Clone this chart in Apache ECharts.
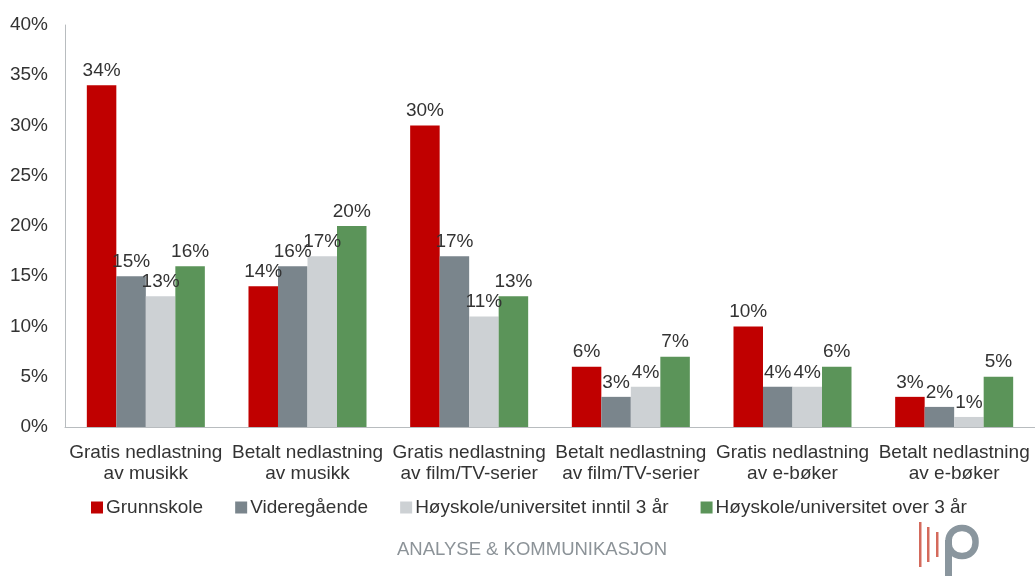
<!DOCTYPE html>
<html>
<head>
<meta charset="utf-8">
<script src="https://cdn.jsdelivr.net/npm/echarts@6/dist/echarts.min.js"></script>
<style>
  html, body { margin: 0; padding: 0; background: #fff; }
  #chart { width: 1035px; height: 576px; }
</style>
</head>
<body>
<div id="chart"></div>
<script>
const categories = [
    "Gratis nedlastning\nav musikk",
    "Betalt nedlastning\nav musikk",
    "Gratis nedlastning\nav film/TV-serier",
    "Betalt nedlastning\nav film/TV-serier",
    "Gratis nedlastning\nav e-bøker",
    "Betalt nedlastning\nav e-bøker",
];
const seriesNames = [
    "Grunnskole",
    "Videregående",
    "Høyskole/universitet inntil 3 år",
    "Høyskole/universitet over 3 år",
];
const grunnskole = [34, 14, 30, 6, 10, 3];
const videregaende = [15, 16, 17, 3, 4, 2];
const hoyskoleInntil3 = [13, 17, 11, 4, 4, 1];
const hoyskoleOver3 = [16, 20, 13, 7, 6, 5];
const yTicks = [0, 5, 10, 15, 20, 25, 30, 35, 40];

const colors = ["#c00000", "#7a858c", "#cdd1d4", "#5b9459"];
const font = "Arial, 'Liberation Sans', sans-serif";
const logoRed = "#d46a5c";
const logoGrey = "#8a969e";

const chart = echarts.init(document.getElementById("chart"));

function bar(name, data, color) {
    return {
        name: name,
        type: "bar",
        data: data,
        barGap: "0%",
        barCategoryGap: "27%",
        itemStyle: { color: color },
        label: {
            show: true,
            position: "top",
            distance: 5,
            formatter: "{c}%",
            color: "#333",
            fontSize: 19,
            fontFamily: font,
        },
    };
}

chart.setOption({
    animation: false,
    color: colors,
    grid: { left: 65, right: -1, top: 25, bottom: 149, containLabel: false },
    legend: {
        left: 86,
        top: 493,
        itemWidth: 12,
        itemHeight: 12,
        itemGap: 32,
        icon: "rect",
        textStyle: { color: "#333", fontSize: 19, fontFamily: font, padding: [0, 0, 0, -2] },
        data: seriesNames,
    },
    xAxis: {
        type: "category",
        data: categories,
        axisLine: { lineStyle: { color: "#b8bcbf" } },
        axisTick: { show: false },
        axisLabel: {
            color: "#333",
            fontSize: 19,
            fontFamily: font,
            lineHeight: 21,
            margin: 15,
            interval: 0,
        },
    },
    yAxis: {
        type: "value",
        min: yTicks[0],
        max: yTicks[yTicks.length - 1],
        interval: 5,
        axisLine: { show: true, lineStyle: { color: "#b8bcbf" } },
        axisTick: { show: false },
        splitLine: { show: false },
        axisLabel: {
            color: "#333",
            fontSize: 19,
            fontFamily: font,
            margin: 17,
            formatter: "{value}%",
        },
    },
    series: [
        bar(seriesNames[0], grunnskole, colors[0]),
        bar(seriesNames[1], videregaende, colors[1]),
        bar(seriesNames[2], hoyskoleInntil3, colors[2]),
        bar(seriesNames[3], hoyskoleOver3, colors[3]),
    ],
    graphic: [
        {
            type: "text",
            left: 397,
            top: 540,
            style: {
                text: "ANALYSE & KOMMUNIKASJON",
                fill: "#8c9398",
                fontSize: 18.5,
                fontFamily: font,
            },
        },
        { type: "rect", shape: { x: 919, y: 522, width: 2.5, height: 45 }, style: { fill: logoRed } },
        { type: "rect", shape: { x: 927, y: 527, width: 2.5, height: 35 }, style: { fill: logoRed } },
        { type: "rect", shape: { x: 936, y: 532, width: 2.5, height: 25 }, style: { fill: logoRed } },
        { type: "rect", shape: { x: 945, y: 540, width: 7, height: 36 }, style: { fill: logoGrey } },
        {
            type: "rect",
            shape: { x: 948.5, y: 528, width: 27, height: 28, r: 13 },
            style: { fill: "none", stroke: logoGrey, lineWidth: 6.5 },
        },
    ],
});
</script>
</body>
</html>
